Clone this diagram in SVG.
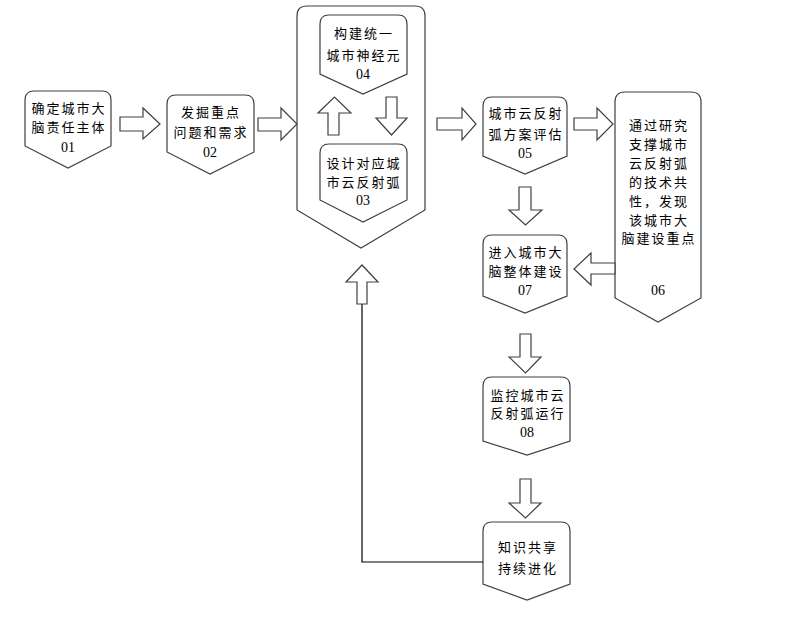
<svg xmlns="http://www.w3.org/2000/svg" width="796" height="621" viewBox="0 0 796 621">
<style>
.n{fill:#fff;stroke:#404040;stroke-width:1.2}
.a{fill:#fff;stroke:#404040;stroke-width:1.2}
.t{font-family:"Noto Sans CJK SC","Liberation Sans",sans-serif;font-size:13px;fill:#000;text-anchor:middle;letter-spacing:2px}
.d{font-family:"Liberation Serif",serif;font-size:14px;fill:#000;text-anchor:middle}
.l{fill:none;stroke:#000;stroke-width:1.2}
</style>
<rect width="796" height="621" fill="#fff"/>
<g id="container">
<path class="n" d="M307,6 H415 Q425,6 425,16 V210 L361,248 L297,210 V16 Q297,6 307,6 Z"/>
</g>
<g id="n01">
<path class="n" d="M34,91 H102 Q111,91 111,100 V146 L68,168 L25,146 V100 Q25,91 34,91 Z"/>
<text class="t" x="69" y="113">确定城市大</text>
<text class="t" x="69" y="132">脑责任主体</text>
<text class="d" x="68" y="152">01</text>
</g>
<g id="n02">
<path class="n" d="M176,95 H245 Q254,95 254,104 V152 L210,174 L167,152 V104 Q167,95 176,95 Z"/>
<text class="t" x="211" y="117">发掘重点</text>
<text class="t" x="211" y="137">问题和需求</text>
<text class="d" x="210" y="157">02</text>
</g>
<g id="n04">
<path class="n" d="M329,15 H398 Q407,15 407,24 V74 L363,94 L320,74 V24 Q320,15 329,15 Z"/>
<text class="t" x="364" y="38">构建统一</text>
<text class="t" x="364" y="60">城市神经元</text>
<text class="d" x="363" y="79">04</text>
</g>
<g id="n03">
<path class="n" d="M329,144 H398 Q407,144 407,153 V200 L363,222 L320,200 V153 Q320,144 329,144 Z"/>
<text class="t" x="364" y="168">设计对应城</text>
<text class="t" x="364" y="187">市云反射弧</text>
<text class="d" x="363" y="205">03</text>
</g>
<g id="n05">
<path class="n" d="M492,97 H558 Q567,97 567,106 V156 L525,174 L483,156 V106 Q483,97 492,97 Z"/>
<text class="t" x="526" y="118">城市云反射</text>
<text class="t" x="526" y="139">弧方案评估</text>
<text class="d" x="525" y="158">05</text>
</g>
<g id="n06">
<path class="n" d="M625,92 H691 Q701,92 701,102 V298 L658,322 L615,298 V102 Q615,92 625,92 Z"/>
<text class="t" x="659" y="130">通过研究</text>
<text class="t" x="659" y="149">支撑城市</text>
<text class="t" x="659" y="168">云反射弧</text>
<text class="t" x="659" y="187">的技术共</text>
<text class="t" x="659" y="206">性，发现</text>
<text class="t" x="659" y="225">该城市大</text>
<text class="t" x="659" y="243">脑建设重点</text>
<text class="d" x="658" y="295">06</text>
</g>
<g id="n07">
<path class="n" d="M492,235 H558 Q567,235 567,244 V296 L525,313 L483,296 V244 Q483,235 492,235 Z"/>
<text class="t" x="526" y="257">进入城市大</text>
<text class="t" x="526" y="276">脑整体建设</text>
<text class="d" x="525" y="295">07</text>
</g>
<g id="n08">
<path class="n" d="M492,377 H561 Q570,377 570,386 V441 L527,455 L483,441 V386 Q483,377 492,377 Z"/>
<text class="t" x="528" y="400">监控城市云</text>
<text class="t" x="528" y="418">反射弧运行</text>
<text class="d" x="527" y="437">08</text>
</g>
<g id="n09">
<path class="n" d="M492,522 H561 Q570,522 570,531 V584 L527,600 L483,584 V531 Q483,522 492,522 Z"/>
<text class="t" x="528" y="552">知识共享</text>
<text class="t" x="528" y="573">持续进化</text>
</g>
<g id="connectors">
<polygon class="a" points="120,117 143,117 143,108 160,124 143,139 143,131 120,131"/>
<polygon class="a" points="258,118 281,118 281,108 297,124 281,140 281,131 258,131"/>
<polygon class="a" points="437,118 462,118 462,108 476,124 462,140 462,130 437,130"/>
<polygon class="a" points="574,118 597,118 597,108 613,124 597,140 597,130 574,130"/>
<polygon class="a" points="615,263 591,263 591,253 574,269 591,285 591,274 615,274"/>
<polygon class="a" points="328,135 328,113 318,113 334.5,97 351,113 339,113 339,135"/>
<polygon class="a" points="386,97 397,97 397,118 407,118 391.5,135 376,118 386,118"/>
<polygon class="a" points="519,187 531,187 531,210 542,210 525.5,225 509,210 519,210"/>
<polygon class="a" points="520,334 531,334 531,357 541,357 525.5,373 509,357 520,357"/>
<polygon class="a" points="520,479 531,479 531,503 541,503 525.5,518 509,503 520,503"/>
<polyline class="l" points="483,562 362,562 362,304"/>
<polygon class="a" points="357,304 357,282 346,282 362,265 378,282 367,282 367,304"/>
</g>
</svg>
